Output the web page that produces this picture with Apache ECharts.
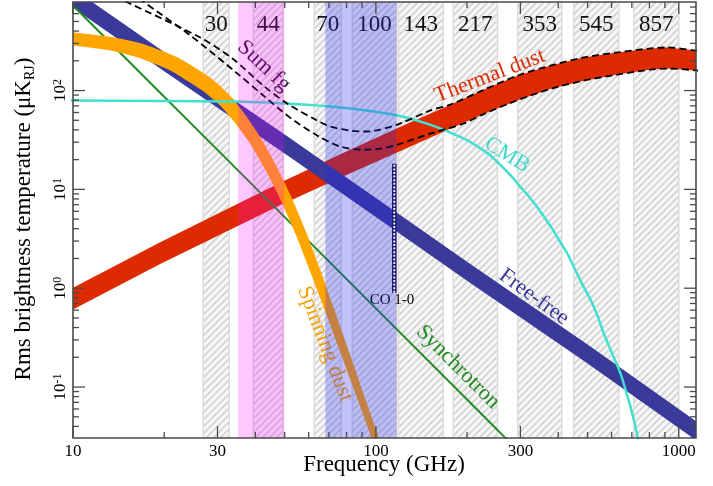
<!DOCTYPE html>
<html><head><meta charset="utf-8">
<script src="https://cdn.jsdelivr.net/npm/echarts@6/dist/echarts.min.js"></script>
<style>html,body{margin:0;padding:0;background:#fff}#c{width:713px;height:486px}</style>
</head><body><div id="c"></div>
<script>
// ---------- tick values ----------
const xMajorTicks = [10, 30, 100, 300, 1000];
const xTickLabels = ['10', '30', '100', '300', '1000'];
const xMinorTicks = [20, 40, 50, 60, 70, 80, 90, 200, 400, 500, 600, 700, 800, 900];
const yMajorTicks = [0.1, 1, 10, 100];
const yTickExponents = ['-1', '0', '1', '2'];
const yMinorTicks = [0.04, 0.05, 0.06, 0.07, 0.08, 0.09, 0.2, 0.3, 0.4, 0.5, 0.6, 0.7, 0.8, 0.9,
  2, 3, 4, 5, 6, 7, 8, 9, 20, 30, 40, 50, 60, 70, 80, 90, 200, 300, 400, 500, 600, 700];

// ---------- Planck channels (GHz) ----------
const channelLabels = ['30', '44', '70', '100', '143', '217', '353', '545', '857'];
const channelLow  = [26.9, 39.4, 62.6, 83.6, 118.6, 180, 294, 450, 710];
const channelHigh = [32.8, 49.4, 76.9, 117, 167, 252, 411, 634, 1000];
const pinkBand = [35.1, 49.8];
const blueBand = [68.1, 117];

// ---------- components [GHz, uK_RJ] ----------
const synchrotron = [[9, 1000], [10, 726], [20, 86.7], [30, 25.1], [50, 5.24], [100, 0.625], [200, 0.0747], [300, 0.0215], [400, 0.009]];
const freeFreeHigh = [[9, 1346], [10, 1075], [20, 245], [30, 104], [50, 36], [100, 8.2], [200, 1.85], [500, 0.27], [1000, 0.060], [1300, 0.034]];
const freeFreeLow  = [[9, 864], [10, 690], [20, 157], [30, 66.8], [50, 23.1], [100, 5.26], [200, 1.19], [500, 0.173], [1000, 0.0385], [1300, 0.0218]];
const dustHigh = [[9, 0.85], [10, 1.01], [19.4, 2.92], [48.3, 11.7], [76.3, 22.7], [116, 40.8], [176, 72], [226, 101], [294, 142], [378, 179], [485, 216], [628, 243], [807, 267], [920, 273], [1138, 254], [1300, 240]];
const dustLow  = [[9, 0.51], [10, 0.61], [19.4, 1.76], [48.3, 6.9], [76.3, 13.1], [116, 23.2], [176, 41], [226, 57.5], [294, 80], [378, 104], [485, 126], [628, 145], [807, 163], [920, 167], [1138, 160], [1300, 152]];
const spinningDust = [[8.72, 344], [10, 333], [13.25, 299], [16.65, 254], [21.4, 188], [27.7, 115], [31.8, 79.2], [35.6, 52.0], [40.0, 31.1], [44.8, 17.0], [50.2, 8.43], [56.3, 3.73], [63.1, 1.50], [70.7, 0.577], [79.3, 0.2164], [88.9, 0.0813], [99.6, 0.0305], [107.5, 0.0159]];
const cmb = [[8, 79.5], [10, 79.3], [20, 78.5], [33, 77.4], [48.3, 74.5], [70.7, 69.0], [95.9, 62.0], [116, 56.5], [133, 51.0], [150, 45.5], [163, 41.4], [180, 36.5], [200, 31.5], [221.5, 26.0], [240, 21.8], [258, 17.6], [280, 13.6], [300, 10.6], [325, 8.0], [350, 5.9], [380, 4.1], [407, 2.9], [430, 2.2], [450, 1.65], [480, 1.1], [512, 0.76], [540, 0.52], [565, 0.35], [600, 0.225], [643, 0.136], [670, 0.09], [694, 0.062], [715, 0.043], [732, 0.031], [760, 0.0178]];
const sumFgHigh = [[12.8, 1000], [14.9, 798], [26.3, 344], [33.6, 211], [42.5, 112], [51.0, 73.8], [64.1, 49.6], [70.7, 43.2], [82.4, 39.3], [91.0, 38.5], [99.6, 39.3], [118, 45.3], [151, 62.7], [176, 72], [226, 101], [294, 142], [378, 179], [485, 216], [628, 243], [807, 267], [920, 273], [1138, 254], [1300, 240]];
const sumFgLow = [[15.4, 985], [17.0, 798], [24.4, 361], [34.6, 152], [42.5, 89.0], [52.1, 53.2], [64.1, 35.0], [76.3, 27.1], [91.0, 25.2], [103.5, 25.8], [118, 28.4], [151, 36.6], [195, 46.4], [226, 57.5], [294, 80], [378, 104], [485, 126], [628, 145], [807, 163], [920, 167], [1138, 160], [1300, 152]];
const coLine = [[115, 0.898], [115, 18.2]];

// ---------- styles ----------
const FONT = '"Liberation Serif","DejaVu Serif",serif';
const spinWidths = [13, 13, 13.5, 14.5, 15, 15, 14, 13, 12, 11.5, 11, 10.5, 10, 9, 8.5, 7.5, 7, 6.5];

// hatch pattern
const pc = document.createElement('canvas');
pc.width = 7; pc.height = 7;
const g = pc.getContext('2d');
g.fillStyle = '#f7f7f7'; g.fillRect(0, 0, 7, 7);
g.strokeStyle = '#d4d4d4'; g.lineWidth = 1.8;
g.beginPath();
g.moveTo(-1, 8); g.lineTo(8, -1);
g.moveTo(-1, 1); g.lineTo(1, -1);
g.moveTo(6, 8); g.lineTo(8, 6);
g.stroke();
const hatch = { image: pc, repeat: 'repeat' };

const chart = echarts.init(document.getElementById('c'), null, { renderer: 'canvas' });

function bandPolygon(hi, lo, color, z) {
  return {
    type: 'custom', z: z, clip: true, silent: true, data: [[100, 1]],
    renderItem: function (params, api) {
      const pts = hi.map(p => api.coord(p)).concat(lo.slice().reverse().map(p => api.coord(p)));
      return { type: 'polygon', shape: { points: pts }, style: { fill: color } };
    }
  };
}

function overlay(range, color) {
  return {
    type: 'custom', z: 9, clip: true, silent: true, data: [[100, 1]],
    renderItem: function (params, api) {
      const cs = params.coordSys;
      const x0 = api.coord([range[0], 1])[0], x1 = api.coord([range[1], 1])[0];
      return { type: 'rect', shape: { x: x0, y: cs.y, width: x1 - x0, height: cs.height }, style: { fill: color } };
    }
  };
}

const series = [
  {
    type: 'custom', z: 1, clip: true, silent: true, data: [[100, 1]],
    renderItem: function (params, api) {
      const cs = params.coordSys;
      return {
        type: 'group', children: channelLow.map((lo, i) => {
          const x0 = api.coord([lo, 1])[0], x1 = api.coord([channelHigh[i], 1])[0];
          return { type: 'rect', shape: { x: x0, y: cs.y - 3, width: x1 - x0, height: cs.height + 6 },
            style: { fill: hatch, stroke: '#dcdcdc', lineWidth: 1.5 } };
        })
      };
    }
  },
  bandPolygon(dustHigh, dustLow, '#de2a00', 2),
  bandPolygon(freeFreeHigh, freeFreeLow, '#3a3a9a', 3),
  { type: 'line', z: 4, data: synchrotron, showSymbol: false, symbol: 'none', lineStyle: { color: '#228b22', width: 2 } },
  {
    type: 'custom', z: 5, clip: true, silent: true, data: [[100, 1]],
    renderItem: function (params, api) {
      const P = spinningDust.map(p => api.coord(p));
      const L = [], R = [];
      for (let i = 0; i < P.length; i++) {
        const a = P[Math.max(0, i - 1)], b = P[Math.min(P.length - 1, i + 1)];
        let tx = b[0] - a[0], ty = b[1] - a[1];
        const len = Math.hypot(tx, ty) || 1; tx /= len; ty /= len;
        const w = spinWidths[i] / 2;
        L.push([P[i][0] - ty * w, P[i][1] + tx * w]);
        R.push([P[i][0] + ty * w, P[i][1] - tx * w]);
      }
      return { type: 'polygon', shape: { points: L.concat(R.reverse()), smooth: 0.2 }, style: { fill: '#ffa500' } };
    }
  },
  { type: 'line', z: 6, data: cmb, smooth: 0.25, showSymbol: false, symbol: 'none', lineStyle: { color: '#40e0d0', width: 2.5 } },
  { type: 'line', z: 7, data: sumFgHigh, smooth: 0.3, showSymbol: false, symbol: 'none', lineStyle: { color: '#000', width: 1.8, type: [7, 4] } },
  { type: 'line', z: 7, data: sumFgLow, smooth: 0.3, showSymbol: false, symbol: 'none', lineStyle: { color: '#000', width: 1.8, type: [7, 4] } },
  {
    type: 'custom', z: 8, clip: false, silent: true, data: [[100, 1]],
    renderItem: function (params, api) {
      const cs = params.coordSys;
      return {
        type: 'group', children: channelLabels.map((t, i) => {
          const x = api.coord([Math.sqrt(channelLow[i] * channelHigh[i]), 1])[0];
          return { type: 'text', x: x, y: cs.y + 23,
            style: { text: t, font: '23px ' + FONT, fill: '#111', align: 'center', verticalAlign: 'middle' } };
        })
      };
    }
  },
  overlay(pinkBand, 'rgba(255,0,255,0.22)'),
  overlay(blueBand, 'rgba(40,40,240,0.28)'),
  { type: 'line', z: 10, data: coLine, showSymbol: false, symbol: 'none', lineStyle: { color: '#1a1a6e', width: 4.5, cap: 'butt' } },
  { type: 'line', z: 11, data: coLine, showSymbol: false, symbol: 'none', lineStyle: { color: '#ffffff', width: 1.8, type: [2, 1.6], cap: 'butt' } },
  {
    type: 'custom', z: 12, clip: false, silent: true, data: [[100, 1]],
    renderItem: function (params, api) {
      const cs = params.coordSys;
      const top = cs.y, bot = cs.y + cs.height, left = cs.x, right = cs.x + cs.width;
      const ch = [];
      const st = { stroke: '#4a4a4a', lineWidth: 1.3 };
      ch.push({ type: 'rect', shape: { x: left, y: top, width: cs.width, height: cs.height }, style: { fill: 'none', stroke: '#4a4a4a', lineWidth: 1.6 } });
      function xt(v, len) {
        const x = api.coord([v, 1])[0];
        ch.push({ type: 'line', shape: { x1: x, y1: bot, x2: x, y2: bot - len }, style: st });
        ch.push({ type: 'line', shape: { x1: x, y1: top, x2: x, y2: top + len }, style: st });
        return x;
      }
      function yt(v, len) {
        const y = api.coord([100, v])[1];
        ch.push({ type: 'line', shape: { x1: left, y1: y, x2: left + len, y2: y }, style: st });
        ch.push({ type: 'line', shape: { x1: right, y1: y, x2: right - len, y2: y }, style: st });
        return y;
      }
      xMinorTicks.forEach(v => xt(v, 6));
      yMinorTicks.forEach(v => yt(v, 6));
      xMajorTicks.forEach((v, i) => {
        const x = xt(v, 12);
        ch.push({ type: 'text', x: x, y: bot + 14, style: { text: xTickLabels[i], font: '17px ' + FONT, fill: '#000', align: 'center', verticalAlign: 'middle' } });
      });
      yMajorTicks.forEach((v, i) => {
        const y = yt(v, 12);
        ch.push({ type: 'text', x: left - 12, y: y, rotation: Math.PI / 2,
          style: { text: '{b|10}{s|' + yTickExponents[i] + '}', align: 'center', verticalAlign: 'middle', fill: '#000',
            rich: { b: { fontSize: 17, fontFamily: FONT, lineHeight: 18, verticalAlign: 'middle', fill: '#000' },
                    s: { fontSize: 12, fontFamily: FONT, lineHeight: 10, verticalAlign: 'top', fill: '#000' } } } });
      });
      return { type: 'group', children: ch };
    }
  }
];

const textLabels = [
  { text: 'Sum fg', x: 264, y: 66, rot: -43, color: '#3c1048' },
  { text: 'Thermal dust', x: 490, y: 76, rot: 21, color: '#dd2a00' },
  { text: 'CMB', x: 507, y: 155, rot: -32, color: '#3fd6cc' },
  { text: 'Free-free', x: 534, y: 297, rot: -36, color: '#383898' },
  { text: 'Synchrotron', x: 458, y: 367, rot: -45, color: '#228b22' },
  { text: 'Spinning dust', x: 325, y: 344, rot: -69, color: '#f5a000' },
  { text: 'CO 1-0', x: 392, y: 300, rot: 0, color: '#000', size: 15 }
];

const graphic = textLabels.map(l => ({
  type: 'text', x: l.x, y: l.y, rotation: l.rot * Math.PI / 180, z: 8, silent: true,
  style: { text: l.text, fill: l.color, font: (l.size || 22) + 'px ' + FONT, align: 'center', verticalAlign: 'middle', textAlign: 'center', textVerticalAlign: 'middle' }
}));
graphic.push({
  type: 'text', x: 384, y: 465, z: 8, silent: true,
  style: { text: 'Frequency (GHz)', fill: '#000', font: '23px ' + FONT, align: 'center', verticalAlign: 'middle', textAlign: 'center', textVerticalAlign: 'middle' }
});
graphic.push({
  type: 'text', x: 24, y: 219, rotation: Math.PI / 2, z: 8, silent: true,
  style: {
    text: '{a|Rms brightness temperature (\u03bcK}{s|RJ}{a|)}', align: 'center', verticalAlign: 'middle', textAlign: 'center', textVerticalAlign: 'middle',
    rich: { a: { fontSize: 23, fontFamily: FONT, lineHeight: 26, verticalAlign: 'middle', fill: '#000' },
            s: { fontSize: 14, fontFamily: FONT, lineHeight: 10, verticalAlign: 'bottom', fill: '#000' } }
  }
});

chart.setOption({
  animation: false,
  backgroundColor: '#ffffff',
  grid: { left: 73, right: 17, top: 2, bottom: 48 },
  xAxis: { type: 'log', logBase: 10, min: 10, max: 1140, show: false, splitLine: { show: false } },
  yAxis: { type: 'log', logBase: 10, min: 0.0305, max: 787, show: false, splitLine: { show: false } },
  graphic: graphic,
  series: series
});
</script>
</body></html>
